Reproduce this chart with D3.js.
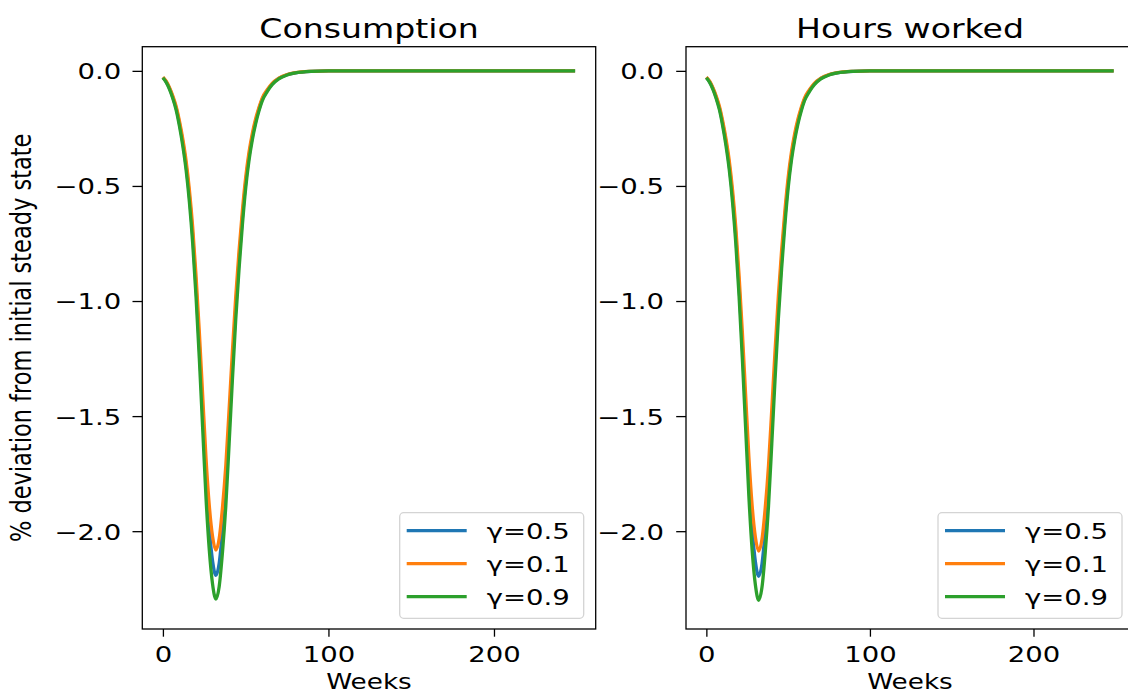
<!DOCTYPE html>
<html>
<head>
<meta charset="utf-8">
<script src="https://cdn.jsdelivr.net/npm/d3@7"></script>
<style>
  body { margin: 0; background: #fff; }
  svg { display: block; font-family: "DejaVu Sans", sans-serif; }
</style>
</head>
<body>
<svg id="chart" width="1128" height="694"></svg>
<script>
// weeks after the shock
const weeks = [0, 2, 4, 6, 8, 10, 12, 14, 16, 18, 20, 22, 24, 26, 28, 30, 32, 34, 36, 38, 40,
    42, 44, 46, 48, 50, 52, 54, 56, 58, 60, 63, 66, 70, 75, 80, 90, 100, 150, 200, 249]

// consumption, % deviation
const consumptionG05 = [-0.029, -0.048, -0.076, -0.115, -0.162, -0.229, -0.310, -0.411, -0.544, -0.716, -0.936,
    -1.194, -1.480, -1.767, -1.986, -2.130, -2.192, -2.139, -1.996, -1.805, -1.547,
    -1.280, -1.031, -0.821, -0.640, -0.487, -0.372, -0.287, -0.220, -0.167, -0.124,
    -0.086, -0.057, -0.033, -0.017, -0.009, -0.002, 0, 0, 0, 0]
const consumptionG01 = [-0.027, -0.045, -0.073, -0.109, -0.154, -0.218, -0.295, -0.390, -0.517, -0.680, -0.889,
    -1.134, -1.406, -1.678, -1.887, -2.023, -2.082, -2.032, -1.896, -1.714, -1.469,
    -1.215, -0.980, -0.780, -0.608, -0.463, -0.354, -0.272, -0.209, -0.159, -0.118,
    -0.082, -0.054, -0.032, -0.016, -0.008, -0.002, 0, 0, 0, 0]
const consumptionG09 = [-0.030, -0.050, -0.080, -0.120, -0.170, -0.240, -0.325, -0.430, -0.570, -0.750, -0.980,
    -1.250, -1.550, -1.850, -2.080, -2.230, -2.295, -2.240, -2.090, -1.890, -1.620,
    -1.340, -1.080, -0.860, -0.670, -0.510, -0.390, -0.300, -0.230, -0.175, -0.130,
    -0.090, -0.060, -0.035, -0.018, -0.009, -0.002, 0, 0, 0, 0]

// hours worked, % deviation
const hoursG05 = [-0.029, -0.048, -0.076, -0.115, -0.162, -0.229, -0.310, -0.411, -0.544, -0.716, -0.936,
    -1.194, -1.480, -1.767, -1.989, -2.134, -2.196, -2.142, -1.998, -1.805, -1.547,
    -1.280, -1.031, -0.821, -0.640, -0.487, -0.372, -0.287, -0.220, -0.167, -0.124,
    -0.086, -0.057, -0.033, -0.017, -0.009, -0.002, 0, 0, 0, 0]
const hoursG01 = [-0.027, -0.045, -0.073, -0.109, -0.154, -0.218, -0.295, -0.390, -0.517, -0.680, -0.889,
    -1.134, -1.406, -1.678, -1.890, -2.027, -2.086, -2.035, -1.898, -1.714, -1.469,
    -1.215, -0.980, -0.780, -0.608, -0.463, -0.354, -0.272, -0.209, -0.159, -0.118,
    -0.082, -0.054, -0.032, -0.016, -0.008, -0.002, 0, 0, 0, 0]
const hoursG09 = [-0.030, -0.050, -0.080, -0.120, -0.170, -0.240, -0.325, -0.430, -0.570, -0.750, -0.980,
    -1.250, -1.550, -1.850, -2.083, -2.235, -2.300, -2.244, -2.092, -1.890, -1.620,
    -1.340, -1.080, -0.860, -0.670, -0.510, -0.390, -0.300, -0.230, -0.175, -0.130,
    -0.090, -0.060, -0.035, -0.018, -0.009, -0.002, 0, 0, 0, 0]

const gammas = ["γ=0.5", "γ=0.1", "γ=0.9"]
const xTicks = [0, 100, 200]
const yTicks = [0, -0.5, -1, -1.5, -2]

const colors = ["#1f77b4", "#ff7f0e", "#2ca02c"]
const sx = 1.25   // the picture is stretched sideways, so is its text

const svg = d3.select("#chart")

panel = (p) => {
    const x = d3.scaleLinear().domain([-12.45, 261.45]).range([p.left, p.right])
    const y = d3.scaleLinear().domain([-2.425, 0.105]).range([p.bottom, p.top])
    const g = svg.append("g")

    const line = d3.line()
        .x((d, i) => x(weeks[i]))
        .y(d => y(d))
        .curve(d3.curveMonotoneX)

    // draw lines
    g.append("g")
        .attr("fill", "none")
        .attr("stroke-width", 3.3)
        .attr("stroke-linejoin", "round")
        .selectAll("path")
        .data(p.series)
        .join("path")
        .attr("stroke", (d, i) => colors[i])
        .attr("d", line)

    // axes
    const yAxis = g.append("g")
        .attr("transform", `translate(${p.left},0)`)
        .call(d3.axisLeft(y).tickValues(yTicks).tickFormat(d3.format(".1f")).tickSize(9.8).tickSizeOuter(0))
    yAxis.select(".domain").remove()
    yAxis.selectAll("line").attr("stroke", "#000").attr("stroke-width", 1.3)
    yAxis.selectAll("text")
        .attr("x", -p.yGap / sx)
        .attr("dy", "0.36em")
        .attr("transform", `scale(${sx},1)`)
        .attr("fill", "#000")
        .attr("font-size", 22)
        .attr("font-family", "DejaVu Sans")

    const xAxis = g.append("g")
        .attr("transform", `translate(0,${p.bottom})`)
        .call(d3.axisBottom(x).tickValues(xTicks).tickFormat(d3.format("d")).tickSize(7.7).tickSizeOuter(0))
    xAxis.select(".domain").remove()
    xAxis.selectAll("line").attr("stroke", "#000").attr("stroke-width", 1.3)
    xAxis.selectAll("text")
        .attr("y", 33)
        .attr("dy", null)
        .attr("transform", `scale(${sx},1)`)
        .attr("fill", "#000")
        .attr("font-size", 22)
        .attr("font-family", "DejaVu Sans")

    // frame
    g.append("rect")
        .attr("x", p.left)
        .attr("y", p.top)
        .attr("width", p.right - p.left)
        .attr("height", p.bottom - p.top)
        .attr("fill", "none")
        .attr("stroke", "#000")
        .attr("stroke-width", 1.3)

    const cx = (p.left + p.right) / 2
    g.append("text")
        .attr("transform", `translate(${cx},38) scale(${sx},1)`)
        .attr("text-anchor", "middle")
        .attr("font-size", 26.5)
        .text(p.title)

    g.append("text")
        .attr("transform", `translate(${cx},689) scale(${sx},1)`)
        .attr("text-anchor", "middle")
        .attr("font-size", 21)
        .text("Weeks")

    if (p.yLabel) {
        g.append("text")
            .attr("transform", `translate(31,${(p.top + p.bottom) / 2}) scale(${sx},1) rotate(-90)`)
            .attr("text-anchor", "middle")
            .attr("font-size", 22.5)
            .text(p.yLabel)
    }

    // legend, lower right
    const lw = 184, lh = 105.6
    const lg = g.append("g")
        .attr("transform", `translate(${p.right - 12 - lw},${p.bottom - 10.7 - lh})`)
    lg.append("rect")
        .attr("width", lw)
        .attr("height", lh)
        .attr("rx", 4)
        .attr("fill", "#fff")
        .attr("fill-opacity", 0.8)
        .attr("stroke", "#d4d4d4")
        .attr("stroke-width", 1.3)
    const rows = lg.selectAll("g.row")
        .data(gammas)
        .join("g")
        .attr("class", "row")
        .attr("transform", (d, i) => `translate(0,${18 + i * 33})`)
    rows.append("line")
        .attr("x1", 7)
        .attr("x2", 67)
        .attr("stroke", (d, i) => colors[i])
        .attr("stroke-width", 3.3)
    rows.append("text")
        .attr("transform", `translate(87,0) scale(${sx},1)`)
        .attr("dy", "0.36em")
        .attr("font-size", 22)
        .text(d => d)
}

panel({
    title: "Consumption",
    series: [consumptionG05, consumptionG01, consumptionG09],
    left: 142.3, right: 595.7, top: 46.7, bottom: 629,
    yGap: 21,
    yLabel: "% deviation from initial steady state"
})

panel({
    title: "Hours worked",
    series: [hoursG05, hoursG01, hoursG09],
    left: 686, right: 1134, top: 46.7, bottom: 629,
    yGap: 22
})
</script>
</body>
</html>
